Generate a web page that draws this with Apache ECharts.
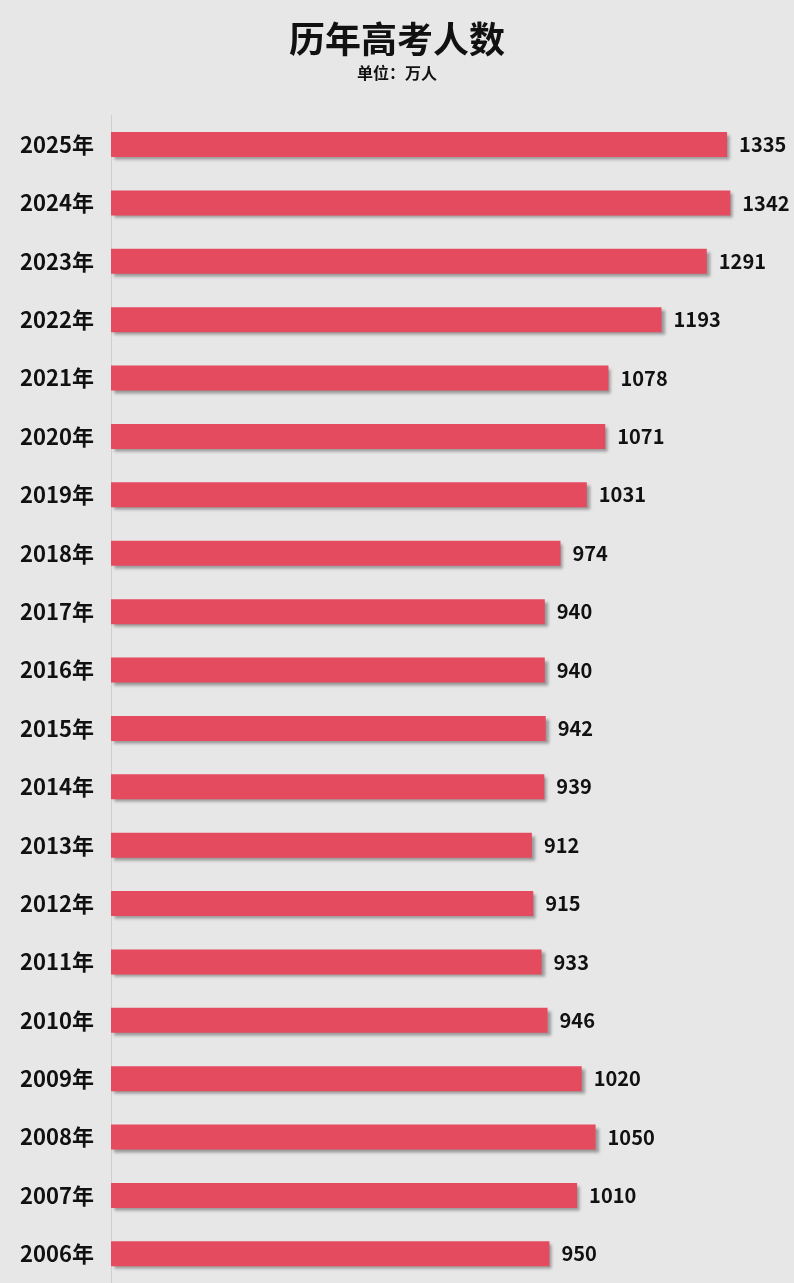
<!DOCTYPE html>
<html><head><meta charset="utf-8">
<script src="https://cdn.jsdelivr.net/npm/echarts@6/dist/echarts.min.js"></script>
<style>html,body{margin:0;padding:0;background:#e7e7e7}#c{width:794px;height:1283px}</style>
</head><body><div id="c"></div>
<script>
const years = ['2025年','2024年','2023年','2022年','2021年','2020年','2019年','2018年','2017年','2016年','2015年','2014年','2013年','2012年','2011年','2010年','2009年','2008年','2007年','2006年'];
const values = [1335,1342,1291,1193,1078,1071,1031,974,940,940,942,939,912,915,933,946,1020,1050,1010,950];
const font = '"Noto Sans CJK SC", sans-serif';
const chart = echarts.init(document.getElementById('c'));
chart.setOption({
  backgroundColor: '#e7e7e7',
  animation: false,
  title: {
    text: '历年高考人数', subtext: '单位：万人', left: 'center', top: 16, itemGap: 8,
    textStyle: {fontFamily: font, fontSize: 36, fontWeight: 'bold', color: '#111'},
    subtextStyle: {fontFamily: font, fontSize: 16, fontWeight: 'bold', color: '#111'}
  },
  grid: {left: 111, right: 0, top: 115.4, bottom: -34.6, containLabel: false},
  xAxis: {type: 'value', min: 0, max: 1480, show: false},
  yAxis: {
    type: 'category', data: years, inverse: true,
    axisLine: {show: true, lineStyle: {color: '#cfcfcf', width: 1}},
    axisTick: {show: false},
    axisLabel: {fontFamily: font, fontSize: 22, fontWeight: 'bold', color: '#111', margin: 17}
  },
  series: [{
    type: 'bar', data: values, barWidth: 25,
    itemStyle: {color: '#e44b5e', shadowColor: 'rgba(0,0,0,0.35)', shadowOffsetX: 3, shadowOffsetY: 3, shadowBlur: 3},
    label: {show: true, position: 'right', distance: 12, fontFamily: font, fontSize: 20, fontWeight: 'bold', color: '#111'}
  }]
});
</script></body></html>
